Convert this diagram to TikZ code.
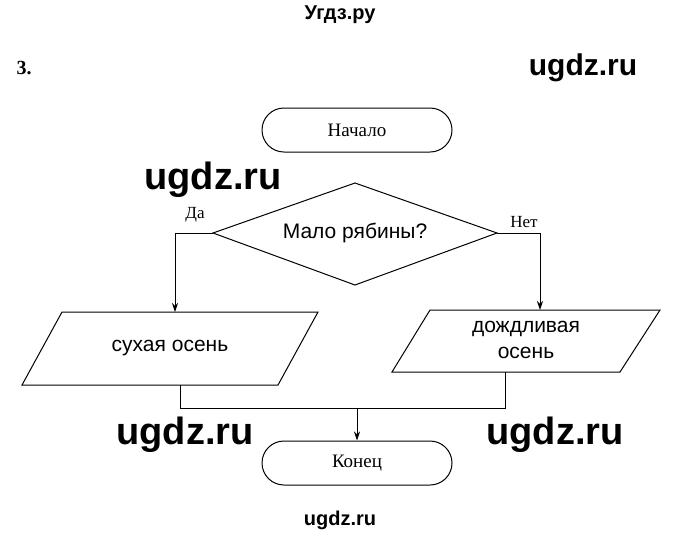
\documentclass[tikz,border=0pt]{standalone}
\usepackage{fontspec}
\setsansfont{Liberation Sans}
\setmainfont{Liberation Serif}
\usetikzlibrary{shapes.geometric,arrows.meta}
\begin{document}
\begin{tikzpicture}[x=1pt,y=-1pt,line width=1pt,
  term/.style={draw,rounded corners=22pt,minimum width=190pt,minimum height=44pt,font=\rmfamily\fontsize{19}{22}\selectfont},
  wm/.style={font=\sffamily\bfseries\fontsize{38}{42}\selectfont},
  arr/.style={-{Stealth[length=9pt,width=6pt]}},
  io/.style={font=\sffamily\fontsize{21}{25}\selectfont,align=center}]
\useasboundingbox (0,0) rectangle (680,539);
\node[font=\sffamily\bfseries\fontsize{20}{24}\selectfont] (t) at (340,15) {Угдз.ру};
\node[font=\rmfamily\bfseries\fontsize{20}{24}\selectfont] (n) at (24,68) {3.};
\node[wm,font=\sffamily\bfseries\fontsize{30}{34}\selectfont] (w0) at (583,68) {ugdz.ru};
\node[term] (s) at (357,130) {Начало};
\draw (213,233) coordinate (dl) -- (355,183) coordinate (dt) -- (497,233) coordinate (dr) -- (355,285) coordinate (db) -- cycle;
\node[font=\sffamily\fontsize{21}{25}\selectfont] (d) at (355,233) {Мало рябины?};
\node[font=\rmfamily\fontsize{17}{20}\selectfont] (da) at (195,215) {Да};
\node[font=\rmfamily\fontsize{17}{20}\selectfont] (net) at (524,222) {Нет};
\coordinate (l1) at (175,233); \coordinate (l2) at (175,312);
\coordinate (r1) at (540,233); \coordinate (r2) at (540,310);
\draw (dl) -- (l1); \draw[arr] (l1) -- (l2);
\draw (dr) -- (r1); \draw[arr] (r1) -- (r2);
\draw (62,312) -- (318,312) -- (278,385) -- (22,385) -- cycle;
\node[io] (p1) at (170,348) {сухая осень};
\draw (430,310) -- (660,310) -- (620,372) -- (392,372) -- cycle;
\node[io,font=\sffamily\fontsize{21}{26}\selectfont] (p2) at (526,340) {дождливая\\осень};
\coordinate (a) at (180,385); \coordinate (a2) at (180,408);
\coordinate (b) at (505,372); \coordinate (b2) at (505,408);
\coordinate (c) at (357,408);
\draw (a) -- (a2) -- (b2) -- (b);
\node[term] (e) at (357,463) {Конец};
\draw[arr] (c) -- (e.north);
\node[wm] (w1) at (213,180) {ugdz.ru};
\node[wm] (w2) at (185,435) {ugdz.ru};
\node[wm] (w3) at (555,435) {ugdz.ru};
\node[font=\sffamily\bfseries\fontsize{20}{24}\selectfont] (w4) at (340,520) {ugdz.ru};
\end{tikzpicture}
\end{document}
